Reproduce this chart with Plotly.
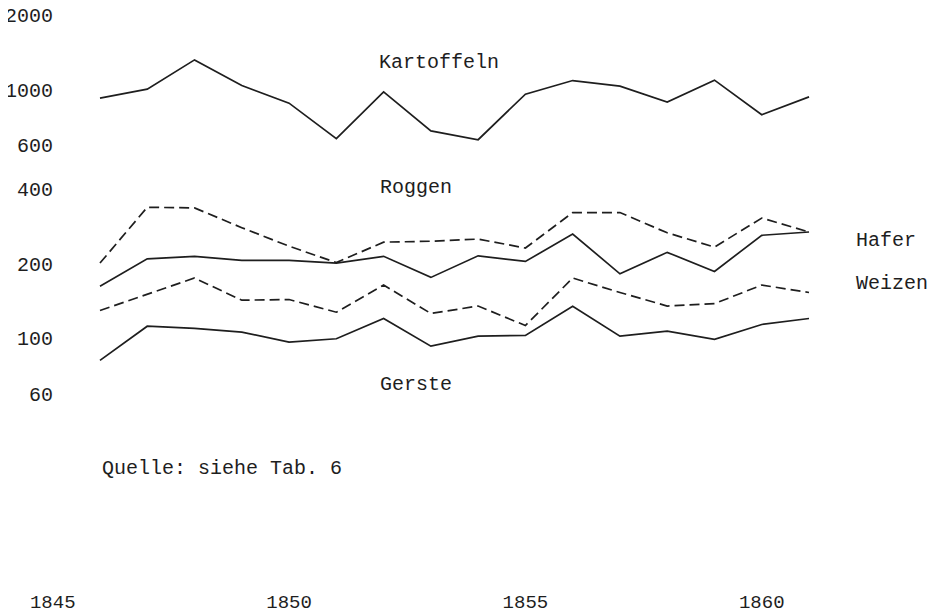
import math
import plotly.graph_objects as go

years = list(range(1846, 1862))
kartoffeln = [926, 1006, 1320, 1041, 884, 636, 982, 684, 630, 961, 1090, 1035, 893, 1094, 794, 937]
roggen = [201, 337, 335, 279, 235, 202, 244, 246, 251, 231, 321, 321, 266, 233, 305, 268]
hafer = [162, 209, 214, 206, 206, 201, 214, 176, 215, 204, 263, 182, 222, 186, 260, 268]
weizen = [129.5, 150, 175, 142.5, 143.4, 127.5, 164, 126, 135, 112.7, 175, 153, 135, 138, 164, 153]
gerste = [81.6, 112, 109.7, 106, 96.6, 99.7, 120.3, 93.1, 102.1, 102.8, 134.8, 102.1, 107, 99.1, 113.8, 120.3]

x_ticks = [1845, 1850, 1855, 1860]
y_ticks = [60, 100, 200, 400, 600, 1000, 2000]

FONT = "Courier New, Liberation Mono, monospace"
INK = "#1e1e1e"

fig = go.Figure()
series = [
    (kartoffeln, "solid"),
    (roggen, "10px,5px"),
    (hafer, "solid"),
    (weizen, "10px,5px"),
    (gerste, "solid"),
]
for vals, dash in series:
    fig.add_trace(go.Scatter(x=years, y=vals, mode="lines",
                             line=dict(color=INK, width=1.7, dash=dash),
                             showlegend=False, hoverinfo="skip"))

labels = [
    ("Kartoffeln", 1851.86, 1283),
    ("Roggen", 1851.88, 404),
    ("Gerste", 1851.88, 65.4),
    ("Hafer", 1861.95, 247.5),
    ("Weizen", 1861.95, 166.3),
    ("Quelle: siehe Tab. 6", 1846.0, 30.06),
]
for txt, xv, yv in labels:
    fig.add_annotation(x=xv, y=math.log10(yv), text=txt, showarrow=False,
                       xanchor="left", yanchor="middle",
                       font=dict(family=FONT, size=20, color=INK))

fig.update_layout(
    width=928, height=603,
    margin=dict(l=0, r=0, t=0, b=23, autoexpand=False),
    paper_bgcolor="white", plot_bgcolor="white",
    font=dict(family=FONT, size=20, color=INK),
    xaxis=dict(range=[1844.054, 1863.686], tickvals=x_ticks,
               ticktext=[str(v) for v in x_ticks],
               tickfont=dict(family=FONT, size=19, color=INK),
               showgrid=False, zeroline=False, showline=False, ticks="",
               ticklabeloverflow="allow", automargin=False),
    yaxis=dict(type="log", range=[0.996, 3.3293], tickvals=y_ticks,
               ticktext=[str(v) for v in y_ticks],
               anchor="free", position=0.0485,
               showgrid=False, zeroline=False, showline=False, ticks="",
               ticklabeloverflow="allow", automargin=False),
)

fig.write_html("out.html")
